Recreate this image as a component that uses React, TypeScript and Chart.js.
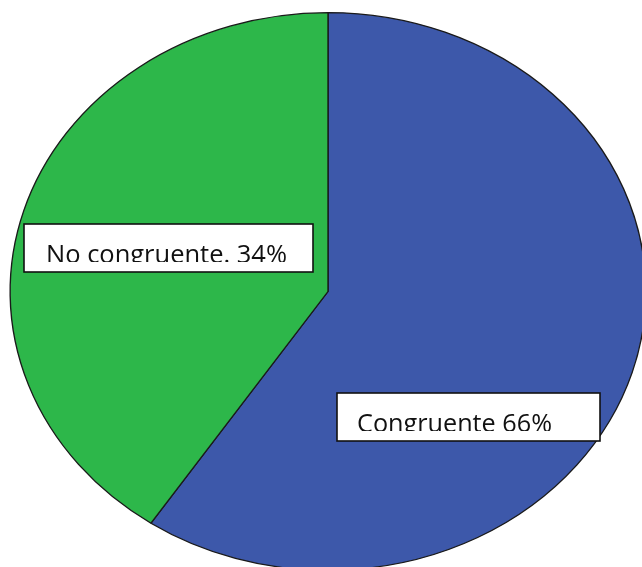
import React, { useEffect, useRef } from "react";
import { Chart, registerables } from "chart.js";

Chart.register(...registerables);

// ---- data ----
const categories = ["Congruente", "No congruente"];
const sliceValues = [59.4, 40.6];
const labelTexts = ["Congruente 66%", "No congruente. 34%"];
const sliceColors = ["#3D58AA", "#2DB74A"];

// ---- layout (kept separate from data) ----
const STRETCH_X = 318 / 279;
const labelBoxes = [
  { x: 337, y: 393, w: 263, h: 48, tx: 357, capTop: 414, tw: 195 },
  { x: 24, y: 224, w: 289, h: 48, tx: 46, capTop: 245, tw: 241 },
];

const ellipsePlugin = {
  id: "ellipseStretch",
  beforeDatasetsDraw(chart: any) {
    const ctx = chart.ctx;
    const arc = chart.getDatasetMeta(0).data[0];
    const cx = arc ? arc.x : chart.chartArea.left + chart.chartArea.width / 2;
    ctx.save();
    ctx.translate(cx, 0);
    ctx.scale(STRETCH_X, 1);
    ctx.translate(-cx, 0);
  },
  afterDatasetsDraw(chart: any) {
    chart.ctx.restore();
  },
};

const labelPlugin = {
  id: "boxLabels",
  afterDraw(chart: any) {
    const ctx = chart.ctx;
    labelTexts.forEach((text, i) => {
      const b = labelBoxes[i];
      ctx.save();
      ctx.fillStyle = "#ffffff";
      ctx.fillRect(b.x, b.y, b.w, b.h);
      ctx.lineWidth = 1.6;
      ctx.strokeStyle = "#111111";
      ctx.strokeRect(b.x, b.y, b.w, b.h);
      const base = b.capTop + 18;
      ctx.beginPath();
      ctx.rect(b.x + 1, b.y + 1, b.w - 2, base - 1 - (b.y + 1));
      ctx.clip();
      ctx.font = "25px 'Open Sans'";
      ctx.fillStyle = "#111111";
      ctx.textBaseline = "alphabetic";
      ctx.textAlign = "left";
      const m = ctx.measureText(text).width || 1;
      ctx.translate(b.tx, base);
      ctx.scale(b.tw / m, 1);
      ctx.fillText(text, 0, 0);
      ctx.restore();
    });
  },
};

export default function App() {
  const ref = useRef<HTMLCanvasElement | null>(null);

  useEffect(() => {
    if (!ref.current) return;
    const chart = new Chart(ref.current, {
      type: "pie",
      data: {
        labels: categories,
        datasets: [
          {
            data: sliceValues,
            backgroundColor: sliceColors,
            borderColor: "#1a1a1a",
            borderWidth: 1.2,
            hoverOffset: 0,
            clip: false as any,
          } as any,
        ],
      },
      options: {
        animation: false,
        responsive: false,
        maintainAspectRatio: false,
        rotation: 0,
        layout: { padding: { left: 48.5, right: 34.5, top: 12, bottom: 9 } },
        plugins: {
          legend: { display: false },
          tooltip: { enabled: false },
          title: { display: false },
        },
        events: [],
      },
      plugins: [ellipsePlugin, labelPlugin],
    });
    return () => chart.destroy();
  }, []);

  return (
    <div
      style={{
        position: "absolute",
        left: 0,
        top: 0,
        width: 642,
        height: 567,
        overflow: "hidden",
        background: "#ffffff",
      }}
    >
      <canvas ref={ref} width={642} height={580} style={{ display: "block" }} />
    </div>
  );
}
